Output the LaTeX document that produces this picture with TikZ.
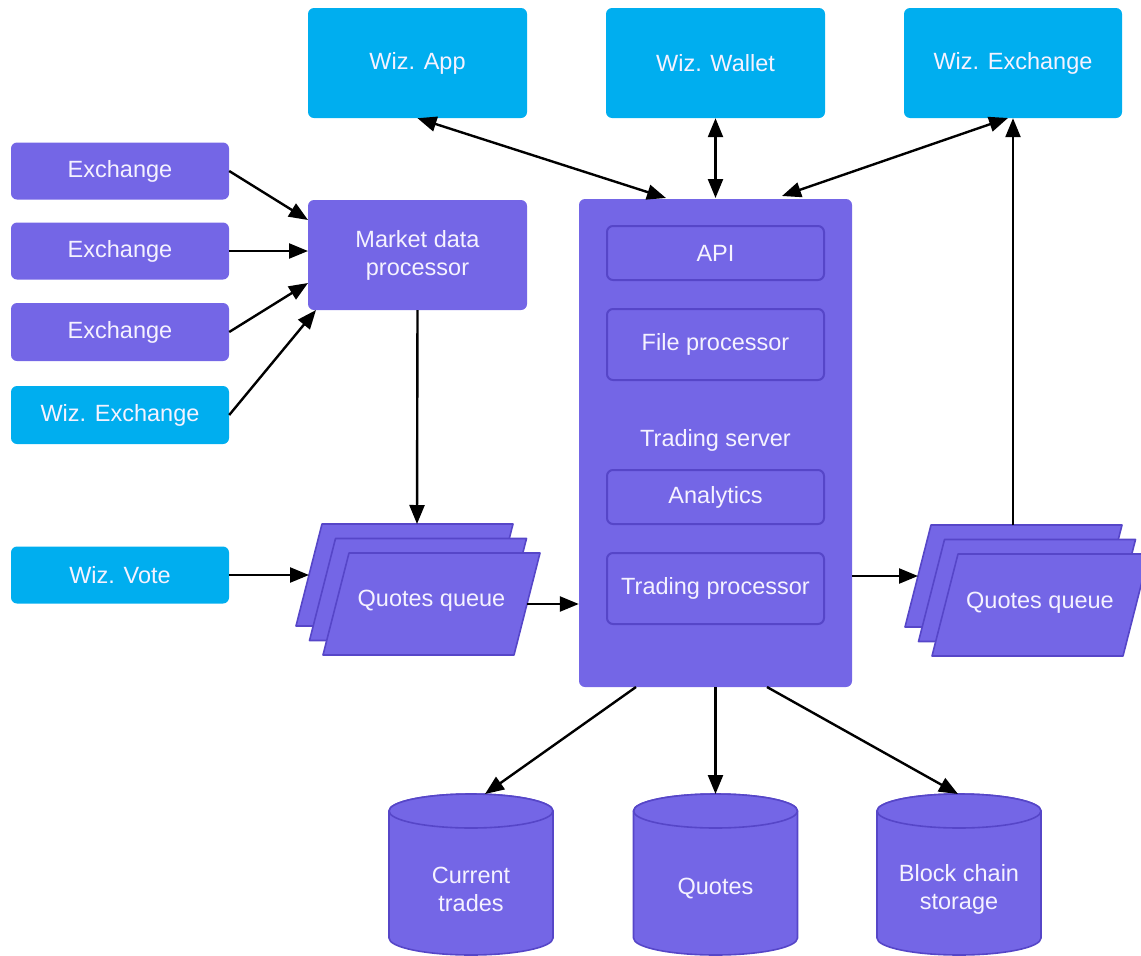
\documentclass[tikz,border=0pt]{standalone}
\usepackage{fontspec}
\setmainfont{Liberation Sans}
\usetikzlibrary{arrows.meta}
\definecolor{purp}{RGB}{116,102,230}
\definecolor{purpd}{RGB}{86,70,200}
\definecolor{cyanb}{RGB}{0,174,239}
\definecolor{txt}{RGB}{245,242,255}
\begin{document}
\begin{tikzpicture}[x=1pt,y=-1pt,
  font=\fontsize{23.5}{28}\selectfont,
  box/.style={rounded corners=6pt, fill=purp, text=txt, align=center, inner sep=0pt},
  cbox/.style={box, fill=cyanb},
  inbox/.style={box, draw=purpd, line width=2pt, minimum width=217pt},
  shp/.style={fill=purp, draw=purpd, line width=1.6pt, line join=round},
  lbl/.style={text=txt, align=center, inner sep=0pt},
  arr/.style={-{Triangle[length=19pt,width=15pt]}, line width=2.4pt},
  arrr/.style={{Triangle[length=19pt,width=15pt]}-{Triangle[length=19pt,width=15pt]}, line width=2.4pt}]
\useasboundingbox (0,0) rectangle (1141,956);

% top boxes
\node[cbox, minimum width=219pt, minimum height=110pt] (app) at (417.5,63) {Wiz. App};
\node[cbox, minimum width=219pt, minimum height=110pt] (wallet) at (715.5,63) {Wiz. Wallet};
\node[cbox, minimum width=218pt, minimum height=110pt] (wexT) at (1013,63) {Wiz. Exchange};

% left boxes
\node[box, minimum width=218pt, minimum height=57pt] (ex1) at (120,171) {Exchange};
\node[box, minimum width=218pt, minimum height=57pt] (ex2) at (120,251) {Exchange};
\node[box, minimum width=218pt, minimum height=58pt] (ex3) at (120,332) {Exchange};
\node[cbox, minimum width=218pt, minimum height=58pt] (wexL) at (120,415) {Wiz. Exchange};
\node[cbox, minimum width=218pt, minimum height=57pt] (vote) at (120,575) {Wiz. Vote};

% market data processor
\node[box, minimum width=219pt, minimum height=110pt] (mdp) at (417.5,255) {Market data\\processor};

% trading server
\node[box, minimum width=273pt, minimum height=488pt] (ts) at (715.5,443) {};
\node[lbl] (tsl) at (715.5,440) {Trading server};
\node[inbox, minimum height=54pt] (api) at (715.5,253) {API};
\node[inbox, minimum height=71pt] (fp) at (715.5,344.5) {File processor};
\node[inbox, minimum height=54pt] (an) at (715.5,497) {Analytics};
\node[inbox, minimum height=71pt] (tp) at (715.5,588.5) {Trading processor};

% left queue
\foreach \dx/\dy in {-27/-29,-13.5/-14.5,0/0}{
  \draw[shp] (349+\dx,553+\dy) -- (540+\dx,553+\dy) -- (514+\dx,655+\dy) -- (323+\dx,655+\dy) -- cycle;
}
\node[lbl] (qL) at (431.5,601) {Quotes queue};
\coordinate (qLtop) at (417,524);
\coordinate (qLin) at (309,575);
\coordinate (qLout) at (527,604);

% right queue
\foreach \dx/\dy in {-27/-29,-13.5/-14.5,0/0}{
  \draw[shp] (958+\dx,554+\dy) -- (1149+\dx,554+\dy) -- (1123+\dx,656+\dy) -- (932+\dx,656+\dy) -- cycle;
}
\node[lbl] (qR) at (1040,603) {Quotes queue};
\coordinate (qRtop) at (1013,525);
\coordinate (qRin) at (918,576);

% cylinders
\foreach \cx in {471,715.5,959}{
  \draw[shp] (\cx-82,811) -- (\cx-82,938) arc[start angle=180,end angle=0,x radius=82,y radius=17]
    -- (\cx+82,811) arc[start angle=0,end angle=-180,x radius=82,y radius=17] -- cycle;
  \draw[shp] (\cx,811) ellipse[x radius=82,y radius=17];
}
\node[lbl] (ct) at (471,889) {Current\\trades};
\node[lbl] (qu) at (715.5,889) {Quotes};
\node[lbl] (bc) at (959,889) {Block chain\\storage};
\coordinate (c1t) at (485,794);
\coordinate (c2t) at (715.5,794);
\coordinate (c3t) at (958,794);

% connectors
\coordinate (tsA) at (666,198);
\coordinate (tsB) at (715.5,198);
\coordinate (tsC) at (782,196);
\coordinate (wexTa) at (1008,118);
\draw[arrr] (app.south) -- (tsA);
\draw[arrr] (wallet.south) -- (tsB);
\draw[arrr] (wexTa) -- (tsC);
\draw[arr] (qRtop) -- (wexT.south);

\coordinate (m1) at (308,220);
\coordinate (m2) at (308,251);
\coordinate (m3) at (308,283);
\coordinate (m4) at (316,310);
\draw[arr] (ex1.east) -- (m1);
\draw[arr] (ex2.east) -- (m2);
\draw[arr] (ex3.east) -- (m3);
\draw[arr] (wexL.east) -- (m4);

\draw[arr] (mdp.south) -- (qLtop);
\draw[arr] (vote.east) -- (qLin);
\draw[arr] (qLout) -- (ts.west |- qLout);
\coordinate (tsR) at (852,576);
\draw[arr] (tsR) -- (qRin);

\coordinate (b1) at (636,687);
\coordinate (b3) at (767,687);
\draw[arr] (b1) -- (c1t);
\draw[arr] (ts.south) -- (c2t);
\draw[arr] (b3) -- (c3t);
\end{tikzpicture}
\end{document}
